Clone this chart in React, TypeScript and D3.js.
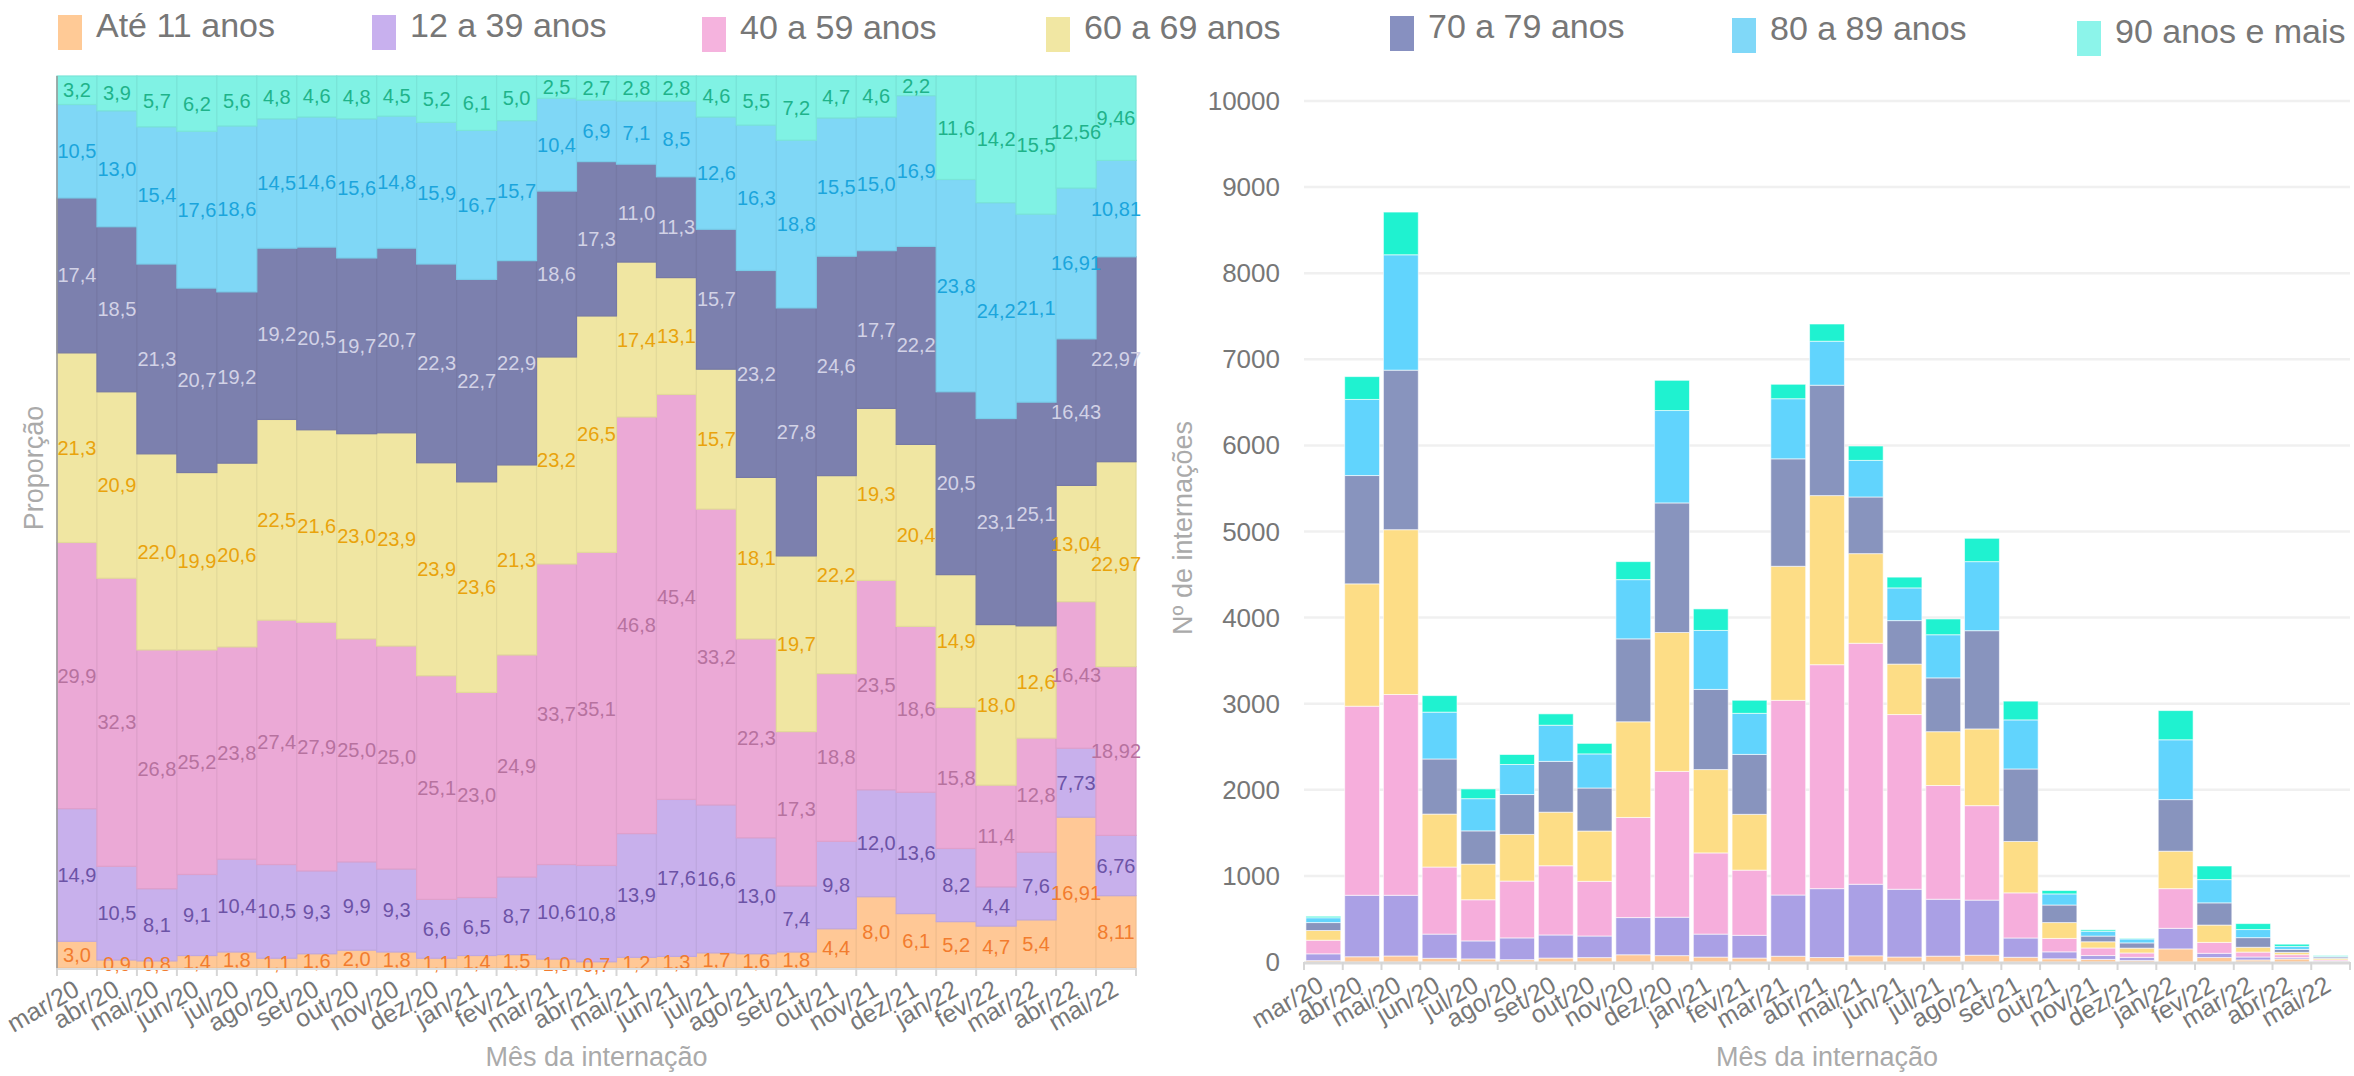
import React, { useEffect } from 'react';
import * as d3 from 'd3';

const months = ['mar/20', 'abr/20', 'mai/20', 'jun/20', 'jul/20', 'ago/20', 'set/20', 'out/20', 'nov/20', 'dez/20',
  'jan/21', 'fev/21', 'mar/21', 'abr/21', 'mai/21', 'jun/21', 'jul/21', 'ago/21', 'set/21', 'out/21', 'nov/21', 'dez/21',
  'jan/22', 'fev/22', 'mar/22', 'abr/22', 'mai/22'];

const groups = ['Até 11 anos', '12 a 39 anos', '40 a 59 anos', '60 a 69 anos', '70 a 79 anos', '80 a 89 anos', '90 anos e mais'];

// proporção (%) por faixa etária
const pctAte11 = [3.0, 0.9, 0.8, 1.4, 1.8, 1.1, 1.6, 2.0, 1.8, 1.1, 1.4, 1.5, 1.0, 0.7, 1.2, 1.3, 1.7, 1.6, 1.8, 4.4, 8.0, 6.1, 5.2, 4.7, 5.4, 16.91, 8.11];
const pct12a39 = [14.9, 10.5, 8.1, 9.1, 10.4, 10.5, 9.3, 9.9, 9.3, 6.6, 6.5, 8.7, 10.6, 10.8, 13.9, 17.6, 16.6, 13.0, 7.4, 9.8, 12.0, 13.6, 8.2, 4.4, 7.6, 7.73, 6.76];
const pct40a59 = [29.9, 32.3, 26.8, 25.2, 23.8, 27.4, 27.9, 25.0, 25.0, 25.1, 23.0, 24.9, 33.7, 35.1, 46.8, 45.4, 33.2, 22.3, 17.3, 18.8, 23.5, 18.6, 15.8, 11.4, 12.8, 16.43, 18.92];
const pct60a69 = [21.3, 20.9, 22.0, 19.9, 20.6, 22.5, 21.6, 23.0, 23.9, 23.9, 23.6, 21.3, 23.2, 26.5, 17.4, 13.1, 15.7, 18.1, 19.7, 22.2, 19.3, 20.4, 14.9, 18.0, 12.6, 13.04, 22.97];
const pct70a79 = [17.4, 18.5, 21.3, 20.7, 19.2, 19.2, 20.5, 19.7, 20.7, 22.3, 22.7, 22.9, 18.6, 17.3, 11.0, 11.3, 15.7, 23.2, 27.8, 24.6, 17.7, 22.2, 20.5, 23.1, 25.1, 16.43, 22.97];
const pct80a89 = [10.5, 13.0, 15.4, 17.6, 18.6, 14.5, 14.6, 15.6, 14.8, 15.9, 16.7, 15.7, 10.4, 6.9, 7.1, 8.5, 12.6, 16.3, 18.8, 15.5, 15.0, 16.9, 23.8, 24.2, 21.1, 16.91, 10.81];
const pct90mais = [3.2, 3.9, 5.7, 6.2, 5.6, 4.8, 4.6, 4.8, 4.5, 5.2, 6.1, 5.0, 2.5, 2.7, 2.8, 2.8, 4.6, 5.5, 7.2, 4.7, 4.6, 2.2, 11.6, 14.2, 15.5, 12.56, 9.46];

// nº de internações por faixa etária
const nAte11 = [16, 61, 70, 43, 36, 27, 46, 51, 84, 74, 57, 46, 67, 52, 72, 58, 68, 79, 55, 37, 30, 17, 152, 52, 24, 35, 6];
const n12a39 = [79, 714, 705, 281, 209, 253, 268, 251, 432, 446, 267, 264, 711, 800, 831, 787, 661, 640, 224, 81, 45, 37, 239, 49, 34, 16, 5];
const n40a59 = [158, 2196, 2332, 779, 478, 660, 804, 635, 1163, 1694, 943, 757, 2261, 2601, 2799, 2029, 1321, 1097, 524, 156, 88, 51, 461, 127, 57, 34, 14];
const n60a69 = [113, 1421, 1914, 615, 414, 542, 622, 584, 1111, 1613, 968, 648, 1557, 1964, 1041, 586, 625, 891, 597, 184, 72, 56, 435, 201, 56, 27, 17];
const n70a79 = [92, 1258, 1853, 640, 386, 463, 590, 500, 963, 1505, 931, 696, 1248, 1282, 658, 505, 625, 1141, 842, 204, 66, 61, 599, 258, 112, 34, 17];
const n80a89 = [56, 884, 1340, 544, 374, 349, 420, 396, 688, 1073, 685, 477, 698, 511, 425, 380, 501, 802, 570, 129, 56, 46, 695, 270, 94, 35, 8];
const n90mais = [17, 265, 496, 192, 113, 116, 132, 122, 209, 351, 250, 152, 168, 200, 167, 125, 183, 271, 218, 39, 17, 6, 339, 158, 69, 26, 7];

const yTicks = [0, 1000, 2000, 3000, 4000, 5000, 6000, 7000, 8000, 9000, 10000];

const pctSeries = [pctAte11, pct12a39, pct40a59, pct60a69, pct70a79, pct80a89, pct90mais];
const countSeries = [nAte11, n12a39, n40a59, n60a69, n70a79, n80a89, n90mais];

const areaColors = ['#ffc896', '#c8b0ec', '#eba9d6', '#f0e6a2', '#7c80ae', '#7fd7f6', '#80f2e4'];
const barColors = ['#fec897', '#aaa0e5', '#f6aedc', '#fddd86', '#8894be', '#61d4fd', '#1ff2d0'];
const legendColors = ['#ffca96', '#c8b0ee', '#f5b3de', '#f1e7a3', '#8790c0', '#80d8f8', '#8cf4ea'];
const labelColors = ['#f27c2e', '#6c53a6', '#b7729f', '#e9a30c', '#d2d2e6', '#1ba5dc', '#1fb38a'];

const legendX = [58, 372, 702, 1046, 1390, 1732, 2077];
const legendY = [15, 15, 17, 17, 16, 18, 21];

const FONT = '"Liberation Sans", Arial, Helvetica, sans-serif';

const fmt = (v: number) => (Math.abs(v * 10 - Math.round(v * 10)) < 1e-6 ? v.toFixed(1) : v.toFixed(2)).replace('.', ',');

export default function App() {
  useEffect(() => {
    document.body.style.margin = '0';
    document.body.style.overflow = 'hidden';
  }, []);

  const keys = groups.map((_, i) => 'g' + i);

  const pctRows = months.map((m, i) => {
    const r: any = { month: m };
    pctSeries.forEach((s, k) => (r['g' + k] = s[i]));
    return r;
  });
  const countRows = months.map((m, i) => {
    const r: any = { month: m };
    countSeries.forEach((s, k) => (r['g' + k] = s[i]));
    return r;
  });

  // ---- left: proporção
  const L = { left: 57, right: 1136, top: 76, bottom: 968 };
  const xL = d3.scaleBand().domain(months).range([L.left, L.right]).padding(0);
  const yL = d3.scaleLinear().domain([0, 1]).range([L.bottom, L.top]);
  const stackL = d3.stack().keys(keys).offset(d3.stackOffsetExpand)(pctRows);

  // ---- right: contagem
  const R = { left: 1304, right: 2350, top: 101, bottom: 962 };
  const xR = d3.scaleBand().domain(months).range([R.left, R.right]).paddingInner(0.1).paddingOuter(0.05);
  const yR = d3.scaleLinear().domain([0, 10000]).range([R.bottom, R.top]);
  const stackR = d3.stack().keys(keys)(countRows);

  const stepR = xR.step();

  return (
    <svg width={2354} height={1076} style={{ position: 'absolute', left: 0, top: 0, background: '#fff' }} fontFamily={FONT}>
      {/* legend */}
      {groups.map((g, i) => (
        <g key={g}>
          <rect x={legendX[i]} y={legendY[i]} width={24} height={35} fill={legendColors[i]} />
          <text x={legendX[i] + 38} y={legendY[i] + 22} fontSize={34} fill="#777">{g}</text>
        </g>
      ))}

      {/* left chart */}
      <g>
        {stackL.map((layer, k) => (
          <g key={'l' + k}>
            {layer.map((d: any, i) => (
              <rect key={i} x={xL(months[i])} y={yL(d[1])} width={xL.bandwidth()} height={yL(d[0]) - yL(d[1])}
                fill={areaColors[k]} stroke={d3.color(areaColors[k])!.darker(0.15).toString()} strokeWidth={1.2} />
            ))}
          </g>
        ))}
        {stackL.map((layer, k) => (
          <g key={'lt' + k}>
            {layer.map((d: any, i) => (
              <text key={i} x={(xL(months[i]) as number) + xL.bandwidth() / 2} y={(yL(d[0]) + yL(d[1])) / 2}
                textAnchor="middle" dominantBaseline="central" fontSize={20} fill={labelColors[k]}>
                {fmt(pctSeries[k][i])}
              </text>
            ))}
          </g>
        ))}
        <line x1={L.left} x2={L.left} y1={L.top} y2={L.bottom} stroke="#999" strokeWidth={1.5} />
        <line x1={L.left} x2={L.right} y1={L.bottom + 1} y2={L.bottom + 1} stroke="#ddd" strokeWidth={2} />
        {months.concat(['']).map((m, i) => (
          <line key={'lt' + i} x1={L.left + i * xL.step()} x2={L.left + i * xL.step()} y1={L.bottom} y2={L.bottom + 8} stroke="#d6d6d6" strokeWidth={2} />
        ))}
        {months.map((m) => {
          const cx = (xL(m) as number) + xL.bandwidth() / 2 + 4;
          const cy = L.bottom + 26;
          return (
            <text key={m} x={cx} y={cy} textAnchor="end" fontSize={25} fill="#777" transform={`rotate(-30, ${cx}, ${cy})`}>{m}</text>
          );
        })}
        <text x={(L.left + L.right) / 2} y={1066} textAnchor="middle" fontSize={27} fill="#aaa">Mês da internação</text>
        <text transform={`translate(43, 468) rotate(-90)`} textAnchor="middle" fontSize={27} fill="#aaa">Proporção</text>
      </g>

      {/* right chart */}
      <g>
        {yTicks.map((t) => (
          <g key={t}>
            {t > 0 && <line x1={R.left} x2={R.right} y1={yR(t)} y2={yR(t)} stroke="#f0f0f0" strokeWidth={2.5} />}
            <text x={1280} y={yR(t)} textAnchor="end" dominantBaseline="central" fontSize={26} fill="#777">{t}</text>
          </g>
        ))}
        {stackR.map((layer, k) => (
          <g key={'r' + k}>
            {layer.map((d: any, i) => (
              <rect key={i} x={xR(months[i])} y={yR(d[1])} width={xR.bandwidth()} height={Math.max(0, yR(d[0]) - yR(d[1]))}
                fill={barColors[k]} stroke="#ffffff" strokeOpacity={0.6} strokeWidth={1} />
            ))}
          </g>
        ))}
        <line x1={R.left} x2={R.right} y1={R.bottom + 1} y2={R.bottom + 1} stroke="#d9d9d9" strokeWidth={3} />
        {months.concat(['']).map((m, i) => (
          <line key={'rt' + i} x1={R.left + i * stepR} x2={R.left + i * stepR} y1={R.bottom} y2={R.bottom + 8} stroke="#d6d6d6" strokeWidth={2} />
        ))}
        {months.map((m) => {
          const cx = (xR(m) as number) + xR.bandwidth() / 2 + 2;
          const cy = R.bottom + 28;
          return (
            <text key={m} x={cx} y={cy} textAnchor="end" fontSize={25} fill="#777" transform={`rotate(-30, ${cx}, ${cy})`}>{m}</text>
          );
        })}
        <text x={(R.left + R.right) / 2} y={1066} textAnchor="middle" fontSize={27} fill="#aaa">Mês da internação</text>
        <text transform={`translate(1192, 528) rotate(-90)`} textAnchor="middle" fontSize={27} fill="#aaa">Nº de internações</text>
      </g>
    </svg>
  );
}
